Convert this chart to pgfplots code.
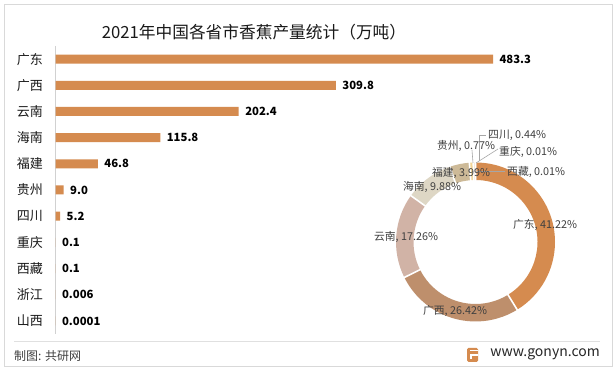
\documentclass[border=0pt]{standalone}
\usepackage{fontspec}
\setmainfont{Noto Sans CJK SC}
\usepackage{pgfplots}
\usepackage{pgfplotstable}
\pgfplotsset{compat=1.18}
\definecolor{barc}{RGB}{213,139,79}
\definecolor{c1}{RGB}{213,139,79}
\definecolor{c2}{RGB}{190,143,108}
\definecolor{c3}{RGB}{209,179,166}
\definecolor{c4}{RGB}{222,215,197}
\definecolor{c5}{RGB}{205,186,152}
\definecolor{c6}{RGB}{242,212,150}
\definecolor{c7}{RGB}{232,200,168}
\definecolor{c8}{RGB}{200,160,120}
\definecolor{c9}{RGB}{180,150,120}
\definecolor{txt}{RGB}{64,64,64}
\definecolor{lead}{RGB}{166,166,166}

\pgfplotstableread{
y v lab
0 483.3 483.3
1 309.8 309.8
2 202.4 202.4
3 115.8 115.8
4 46.8 46.8
5 9.0 9.0
6 5.2 5.2
7 0.1 0.1
8 0.1 0.1
9 0.006 0.006
10 0.0001 0.0001
}\bardata

\begin{document}
\begin{tikzpicture}[x=1pt,y=1pt]
\useasboundingbox (0,0) rectangle (616,371);
\fill[white] (0,0) rectangle (616,371);
\draw[black!15, line width=0.8pt] (4,5) rectangle (612,367);
\draw[black!12, line width=0.8pt] (14,30) -- (600,30);

% title
\node[font=\fontsize{16.7}{16.7}\selectfont, text=black!90] at (254,339) {2021年中国各省市香蕉产量统计（万吨）};

\begin{axis}[
  at={(55.5pt,37pt)}, anchor=south west,
  scale only axis, width=437.5pt, height=288pt,
  xmin=0, xmax=483.3, ymin=-0.5, ymax=10.5,
  y dir=reverse,
  axis x line=none, axis y line*=left,
  y axis line style={draw=black!18, line width=0.8pt, -},
  ytick={0,...,10},
  yticklabels={广东,广西,云南,海南,福建,贵州,四川,重庆,西藏,浙江,山西},
  major tick length=0pt,
  yticklabel style={font=\fontsize{13}{13}\selectfont, text=black!90, xshift=-9pt},
  clip=false,
  point meta=explicit symbolic,
  nodes near coords,
  nodes near coords style={anchor=west, font=\bfseries\fontsize{11.3}{11.3}\selectfont, text=black, xshift=3pt},
]
\addplot[xbar, bar width=9pt, fill=barc, draw=none] table[x=v, y=y, meta=lab] {\bardata};
\end{axis}

% donut
\begin{scope}[shift={(475.5,129)}]
\def\s{90}
\foreach \p/\c in {41.22/c1, 26.42/c2, 17.26/c3, 9.88/c4, 3.99/c5, 0.77/c6, 0.44/c7, 0.01/c8, 0.01/c9}{
  \pgfmathsetmacro\e{\s-3.6*\p}
  \fill[\c] (\s:79.5) arc[start angle=\s, end angle=\e, radius=79.5] -- (\e:62) arc[start angle=\e, end angle=\s, radius=62] -- cycle;
  \draw[white, line width=1.6pt] (\s:61) -- (\s:80.5);
  \xdef\s{\e}
}
\end{scope}

% leader lines
\draw[lead, line width=0.6pt] (479,210) -- (479,236) -- (486,236);
\draw[lead, line width=0.6pt] (476,208) -- (498,222);
\draw[lead, line width=0.6pt] (473,208) -- (472,221);
\draw[lead, line width=0.6pt] (477,200) -- (505,200);

% donut labels
\begin{scope}[every node/.style={font=\fontsize{10.8}{10.8}\selectfont, text=txt, inner sep=0pt}]
\node at (545,146) {广东, 41.22\%};
\node at (455,60) {广西, 26.42\%};
\node at (406,134) {云南, 17.26\%};
\node at (432,184) {海南, 9.88\%};
\node at (461,198) {福建, 3.99\%};
\node at (466,225) {贵州, 0.77\%};
\node[anchor=west] at (488,236) {四川, 0.44\%};
\node[anchor=west] at (499,219) {重庆, 0.01\%};
\node[anchor=west] at (507,199) {西藏, 0.01\%};
\end{scope}

% footer
\node[anchor=west, font=\fontsize{12}{12}\selectfont, text=txt, inner sep=0pt] at (14,15) {制图: 共研网};
\fill[rounded corners=1.5pt, c1] (467,9) rectangle (478,23);
\fill[white] (470,14.5) rectangle (478,17);
\fill[white] (470,12) rectangle (472,17);
\fill[white] (470,20) rectangle (478,21);
\node[anchor=east, font=\fontsize{14}{14}\selectfont, text=black!85, inner sep=0pt] at (600,17) {www.gonyn.com};
\end{tikzpicture}
\end{document}
